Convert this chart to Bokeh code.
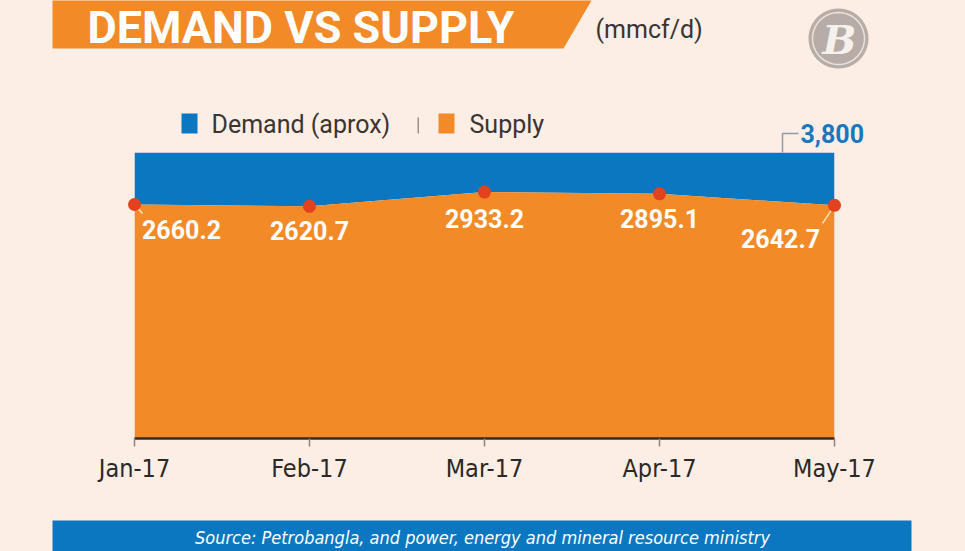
import math
from bokeh.plotting import figure
from bokeh.models import ColumnDataSource, Range1d, FixedTicker
from bokeh.core.properties import value
from bokeh.embed import file_html
from bokeh.resources import INLINE

# ---------------- data ----------------
months = ["Jan-17", "Feb-17", "Mar-17", "Apr-17", "May-17"]
supply = [2660.2, 2620.7, 2933.2, 2895.1, 2642.7]
demand = [3800, 3800, 3800, 3800, 3800]
supply_labels = ["2660.2", "2620.7", "2933.2", "2895.1", "2642.7"]
demand_label = "3,800"
title_text = "DEMAND VS SUPPLY"
unit_text = "(mmcf/d)"
legend_names = ["Demand (aprox)", "Supply"]
source_text = "Source: Petrobangla, and power, energy and mineral resource ministry"

# ---------------- style ----------------
BG = "#FCEEE5"
BLUE = "#0B77C1"
ORANGE = "#F28A28"
RED = "#E2421D"
TXT = "#3B3431"
COND = "DejaVu Sans Condensed"
SANS = "Roboto"

W, H = 965, 551
# frame edges in page pixels
PL, PR, PT, PB = 134, 834, 152, 438
PX_PER_UNIT = 0.04562  # vertical pixels per mmcf/d

n = len(months)
xs = list(range(n))
y_top = max(demand)
y_bot = y_top - (PB - PT) / PX_PER_UNIT
XPU = (PR - PL) / (n - 1)


def dx(px):
    return (px - PL) / XPU


def dy(py):
    return y_top - (py - PT) / PX_PER_UNIT


p = figure(width=W, height=H, output_backend="svg", toolbar_location=None,
           x_range=Range1d(0, n - 1), y_range=Range1d(y_bot, y_top),
           y_axis_location=None,
           min_border_left=PL, min_border_right=W - PR,
           min_border_top=PT, min_border_bottom=H - PB)
p.background_fill_color = BG
p.border_fill_color = BG
p.outline_line_color = None
p.grid.visible = False

OV = "overlay"

# ---- decorations (title banner, source bar, legend, logo) ----
p.patch(x=[dx(52), dx(591), dx(563), dx(52)], y=[dy(0), dy(0), dy(48), dy(48)],
        fill_color=ORANGE, line_color=None, level=OV)
p.text(x=[dx(87)], y=[dy(27)], text=[title_text], text_font=value(SANS),
       text_font_style="bold", text_font_size="45px", text_color="white",
       text_baseline="middle", level=OV)
p.text(x=[dx(595)], y=[dy(29)], text=[unit_text], text_font=value(SANS),
       text_font_size="25px", text_color=TXT, text_baseline="middle", level=OV)

# logo (circle badge)
LX, LY = 838, 38
ang = [2 * math.pi * k / 48 for k in range(48)]
p.patch(x=[dx(LX + 30 * math.cos(a)) for a in ang],
        y=[dy(LY + 30 * math.sin(a)) for a in ang],
        fill_color="#B7ADA6", line_color=None, level=OV)
p.patch(x=[dx(LX + 26 * math.cos(a)) for a in ang],
        y=[dy(LY + 26 * math.sin(a)) for a in ang],
        fill_color=None, line_color="#E9E2DC", line_width=1.5, level=OV)
p.text(x=[dx(LX + 1)], y=[dy(LY + 1)], text=["B"], text_font=value("DejaVu Serif"),
       text_font_style="bold italic", text_font_size="40px",
       text_color="#F6F1ED", text_align="center", text_baseline="middle",
       level=OV)

# legend
p.quad(left=[dx(181), dx(438)], right=[dx(197), dx(454)],
       top=[dy(113)] * 2, bottom=[dy(133)] * 2,
       fill_color=[BLUE, ORANGE], line_color=None, level=OV)
p.quad(left=[dx(417)], right=[dx(418.5)], top=[dy(117)], bottom=[dy(133)],
       fill_color="#9A918C", line_color=None, level=OV)
p.text(x=[dx(211), dx(469)], y=[dy(124)] * 2, text=legend_names,
       text_font=value(SANS), text_font_size="25px", text_color=TXT,
       text_baseline="middle", level=OV)

# source bar
p.quad(left=[dx(52)], right=[dx(911)], top=[dy(520)], bottom=[dy(551)],
       fill_color=BLUE, line_color=None, level=OV)
p.text(x=[dx(482)], y=[dy(537)], text=[source_text], text_font=value(COND),
       text_font_style="italic", text_font_size="18px", text_color="white",
       text_align="center", text_baseline="middle", level=OV)

# ---------------- chart ----------------
src = ColumnDataSource(dict(
    x=xs, supply=supply, demand=demand, base=[y_bot] * n, lab=supply_labels,
    xo=[47, 0, 0, 0, -54], yo=[25, 24, 26, 25, 33]))

p.varea(x="x", y1="supply", y2="demand", source=src, fill_color=BLUE)
p.varea(x="x", y1="base", y2="supply", source=src, fill_color=ORANGE)

# leader lines for first & last labels
lx0 = [xs[0], xs[-1]]
ly0 = [supply[0], supply[-1]]
lx1 = [xs[0] + 8 / XPU, xs[-1] - 12 / XPU]
ly1 = [supply[0] - 9 / PX_PER_UNIT, supply[-1] - 18 / PX_PER_UNIT]
p.segment(x0=lx0, y0=ly0, x1=lx1, y1=ly1, line_color="#FBE2C4",
          line_width=1.5, level=OV)

p.scatter(x="x", y="supply", source=src, size=13, fill_color=RED,
          line_color=None, level=OV)
p.text(x="x", y="supply", text="lab", source=src, x_offset="xo", y_offset="yo",
       text_font=value(SANS), text_font_style="bold", text_font_size="25px",
       text_color="white", text_align="center", text_baseline="middle",
       level=OV)

# x axis
p.xaxis.ticker = FixedTicker(ticks=xs)
p.xaxis.major_label_overrides = {i: m for i, m in enumerate(months)}
p.xaxis.minor_tick_line_color = None
p.xaxis.major_tick_in = 0
p.xaxis.major_tick_out = 8
p.xaxis.major_tick_line_color = "#8C8580"
p.xaxis.major_tick_line_width = 1.5
p.xaxis.axis_line_color = "#3A2A1E"
p.xaxis.axis_line_width = 2.5
p.xaxis.major_label_text_font = COND
p.xaxis.major_label_text_font_size = "25px"
p.xaxis.major_label_text_color = "#2B2826"
p.xaxis.major_label_standoff = 7

# demand 3,800 label with bracket
bx = dx(782)
p.line(x=[bx, bx, dx(798)], y=[y_top, dy(133), dy(133)], line_color="#8E9AAA",
       line_width=1.5, level=OV)
p.text(x=[dx(800)], y=[dy(133)], text=[demand_label], text_font=value(SANS),
       text_font_style="bold", text_font_size="25px", text_color="#1877C0",
       text_baseline="middle", level=OV)

html = file_html(p, INLINE)
html = html.replace("<head>", "<head><style>html,body{background:%s;}</style>" % BG, 1)
open("out.html", "w").write(html)
